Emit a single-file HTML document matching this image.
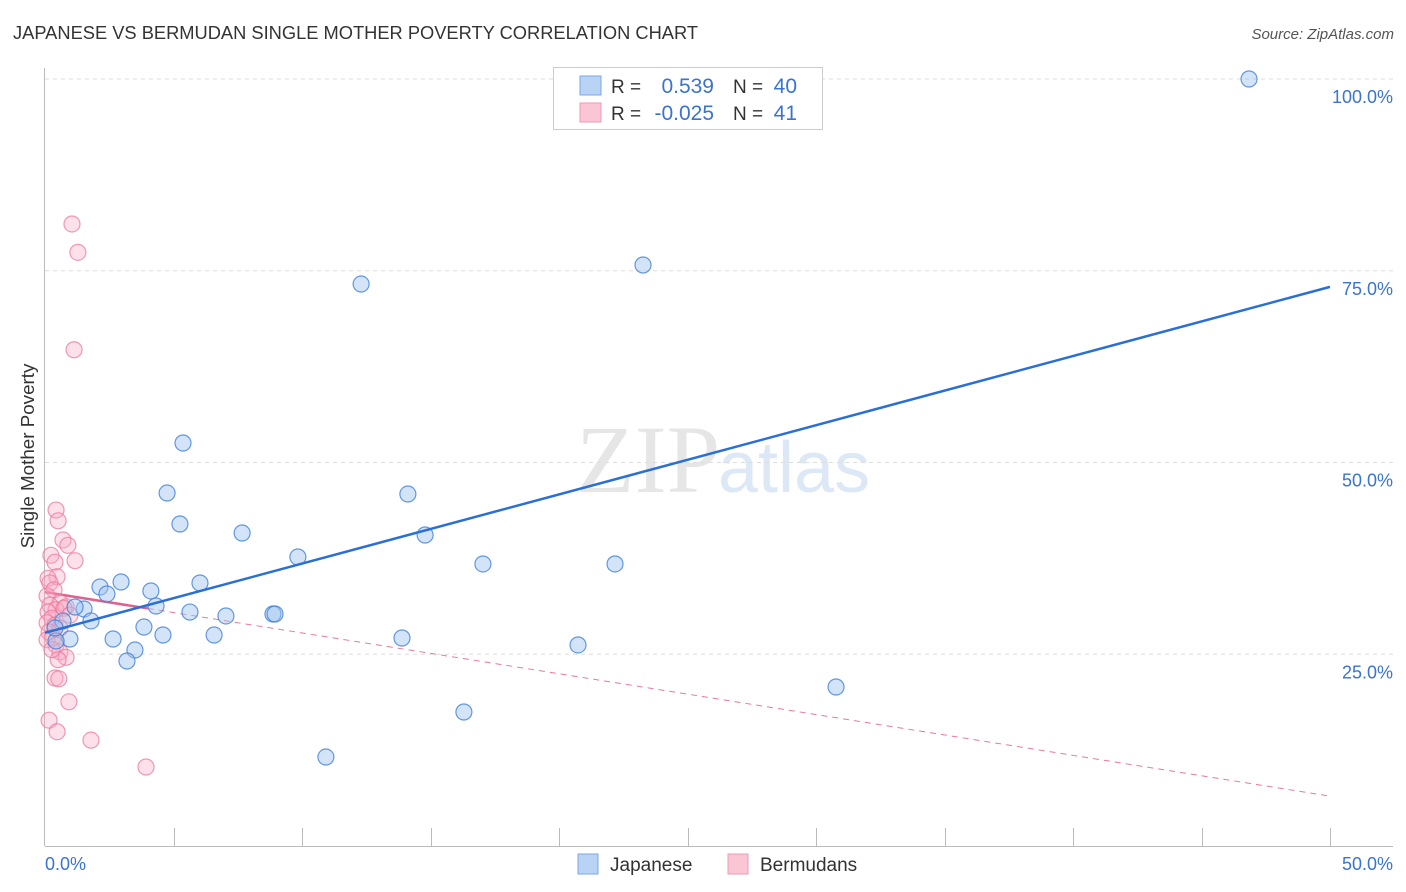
<!DOCTYPE html>
<html><head><meta charset="utf-8"><style>
body{margin:0;background:#fff;font-family:"Liberation Sans",sans-serif;}
svg{display:block}
</style></head><body>
<svg id="chart" width="1406" height="892" xmlns="http://www.w3.org/2000/svg">
<text x="13" y="39" font-size="18.3" fill="#333">JAPANESE VS BERMUDAN SINGLE MOTHER POVERTY CORRELATION CHART</text>
<text x="1394" y="39" font-size="15" fill="#555" font-style="italic" text-anchor="end">Source: ZipAtlas.com</text>
<text x="720" y="492" font-size="96" fill="#e6e6e6" text-anchor="end" font-family="Liberation Serif,serif">ZIP</text>
<text x="718" y="492" font-size="72" fill="#dde8f6">atlas</text>
<text transform="translate(34,456) rotate(-90)" font-size="18.8" fill="#333" text-anchor="middle">Single Mother Poverty</text>
<g id="grid"></g><g id="axes"></g><g id="trend"></g><g id="pts"></g>
<g>
<rect x="553.5" y="67.5" width="269" height="62" fill="#fff" stroke="#ccc"/>
<rect x="580" y="76" width="21" height="19" fill="#b9d3f5" stroke="#7aa7e6"/>
<rect x="580" y="103" width="21" height="19" fill="#fac6d6" stroke="#ef9ab4"/>
<text x="611" y="93" font-size="19" fill="#333">R =</text><text x="714" y="93" font-size="21" fill="#3a73d0" text-anchor="end">0.539</text>
<text x="733" y="93" font-size="19" fill="#333">N =</text><text x="797" y="93" font-size="21" fill="#3a73d0" text-anchor="end">40</text>
<text x="611" y="120" font-size="19" fill="#333">R =</text><text x="714" y="120" font-size="21" fill="#3a73d0" text-anchor="end">-0.025</text>
<text x="733" y="120" font-size="19" fill="#333">N =</text><text x="797" y="120" font-size="21" fill="#3a73d0" text-anchor="end">41</text>
</g>
<g>
<rect x="578" y="854" width="20" height="20" fill="#b9d3f5" stroke="#7aa7e6"/>
<text x="610" y="871" font-size="19" fill="#333">Japanese</text>
<rect x="728" y="854" width="20" height="20" fill="#fac6d6" stroke="#ef9ab4"/>
<text x="760" y="871" font-size="19" fill="#333">Bermudans</text>
</g>
</svg>
<script>
const japX=[46.85,23.27,12.30,5.37,4.75,14.12,5.25,7.67,14.79,9.84,17.04,22.18,2.96,2.14,4.12,2.41,6.03,4.32,1.52,5.64,7.04,8.87,8.95,1.79,0.70,3.85,4.59,6.58,13.89,2.65,0.97,0.43,20.74,3.50,3.19,30.78,16.30,10.93,0.39,1.17];
const japY=[100.0,75.75,73.27,52.54,46.02,45.89,41.98,40.81,40.55,37.68,36.77,36.77,34.42,33.77,33.25,32.86,34.29,31.29,30.9,30.5,29.99,30.25,30.25,29.34,29.34,28.55,27.51,27.51,27.12,26.99,26.99,26.73,26.21,25.55,24.12,20.73,17.47,11.6,28.42,31.16];
const berX=[1.05,1.28,1.13,0.43,0.51,0.70,0.89,0.23,1.17,0.39,0.47,0.12,0.19,0.35,0.08,0.58,0.19,0.43,0.82,0.12,0.27,0.08,0.39,0.58,0.16,0.31,0.08,0.43,0.58,0.82,0.51,0.39,0.54,0.93,0.16,0.47,1.79,3.93,0.74,0.27,0.97];
const berY=[81.1,77.4,64.7,43.8,42.4,39.9,39.2,37.9,37.2,37.0,35.1,34.9,34.3,33.4,32.6,31.7,31.4,30.8,31.2,30.5,29.7,29.1,28.8,28.4,27.9,27.2,26.9,26.2,25.3,24.6,24.3,21.9,21.8,18.8,16.4,14.9,13.8,10.3,31.0,25.6,30.1];
const japTrend=[27.8,72.9];
const berTrend=[33.1,6.5];
const berSolidEnd=4.0;
const yTicks=[25,50,75,100];
const xTickLabels=["0.0%","50.0%"];
const NS="http://www.w3.org/2000/svg";
const sx=v=>45+v*1285/50, sy=v=>846-v*7.67;
function mk(tag,attrs,parent){const e=document.createElementNS(NS,tag);for(const k in attrs)e.setAttribute(k,attrs[k]);parent.appendChild(e);return e;}
const grid=document.getElementById('grid'),axes=document.getElementById('axes'),trend=document.getElementById('trend'),pts=document.getElementById('pts');
yTicks.forEach(t=>{
 const l=mk('line',{x1:45,x2:1393,y1:sy(t),y2:sy(t),stroke:'#ddd','stroke-dasharray':'4,4'},grid);
 
 
 const tx=mk('text',{x:1393,y:sy(t)+24,'font-size':18,fill:'#3a73d0','text-anchor':'end'},grid);
 tx.textContent=t.toFixed(1)+'%';
 
 
});
const ya=mk('line',{x1:44.5,x2:44.5,y1:68,y2:846,stroke:'#bbb'},axes);


const xa=mk('line',{x1:45,x2:1393,y1:846.5,y2:846.5,stroke:'#bbb'},axes);


for(let i=1;i<=10;i++){
 const x=Math.round(45+128.5*i)+0.5;
 const t=mk('line',{x1:x,x2:x,y1:828,y2:846,stroke:'#bbb'},axes);
 
 
}
[[0,45,'start'],[50,1393,'end']].forEach((d,i)=>{
 const t=mk('text',{x:d[1],y:870,'font-size':18,fill:'#3a73d0','text-anchor':d[2]},axes);
 t.textContent=xTickLabels[i];
 
 
});
function pt(xs,ys,fill,stroke,name){xs.forEach((x,i)=>{
 const c=mk('circle',{cx:sx(x),cy:sy(ys[i]),r:8,fill:fill,stroke:stroke,'stroke-width':1.2},pts);
 
 
});}
pt(berX,berY,'rgba(248,170,195,0.35)','rgba(236,120,156,0.75)','bermudans-point');
pt(japX,japY,'rgba(160,196,240,0.45)','rgba(64,128,216,0.8)','japanese-point');
const by=x=>berTrend[0]+(berTrend[1]-berTrend[0])*x/50;
const bd=mk('line',{x1:sx(berSolidEnd),y1:sy(by(berSolidEnd)),x2:sx(50),y2:sy(by(50)),stroke:'#e8799c','stroke-width':1,'stroke-dasharray':'6,5'},trend);


const bs=mk('line',{x1:sx(0),y1:sy(by(0)),x2:sx(berSolidEnd),y2:sy(by(berSolidEnd)),stroke:'#e2608a','stroke-width':2.5},trend);


const jt=mk('line',{x1:sx(0),y1:sy(japTrend[0]),x2:sx(50),y2:sy(japTrend[1]),stroke:'#2a6fd6','stroke-width':2.5},pts);


</script>
</body></html>
